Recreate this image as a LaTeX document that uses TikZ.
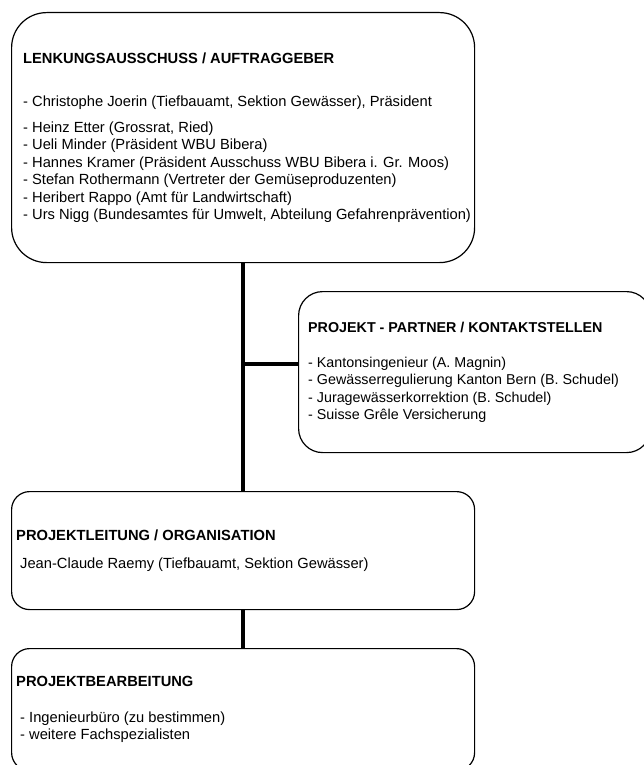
\documentclass[tikz,border=0pt]{standalone}
\usepackage{fontspec}
\setmainfont{Liberation Sans}
\usetikzlibrary{calc}

\tikzset{
	orgbox/.style={draw, line width=1.2pt, anchor=north west, inner sep=0pt},
	boxtext/.style={anchor=west, align=left, inner sep=0pt},
	link/.style={line width=4pt},
}

\begin{document}
\begin{tikzpicture}[x=1pt, y=-1pt]
	\useasboundingbox (0, 0) rectangle (643, 765);
	% boxes
	\node [orgbox, rounded corners=35pt, minimum width=463pt, minimum height=250pt] (steer) at (11, 12) {};
	\node [orgbox, rounded corners=24pt, minimum width=352pt, minimum height=161pt] (partner) at (298, 291) {};
	\node [orgbox, rounded corners=18pt, minimum width=463pt, minimum height=118pt] (lead) at (11, 491) {};
	\node [orgbox, rounded corners=18pt, minimum width=463pt, minimum height=122pt] (work) at (11, 648) {};
	% texts
	\node [boxtext, font=\fontsize{14.7}{17.4}\selectfont] (steertext) at ($(steer.west)+(12, 0)$) {%
		\textbf{LENKUNGSAUSSCHUSS / AUFTRAGGEBER}\\[25.6pt]
		- Christophe Joerin (Tiefbauamt, Sektion Gewässer), Präsident\\[8.6pt]
		- Heinz Etter (Grossrat, Ried)\\
		- Ueli Minder (Präsident WBU Bibera)\\
		- Hannes Kramer (Präsident Ausschuss WBU Bibera i. Gr. Moos)\\
		- Stefan Rothermann (Vertreter der Gemüseproduzenten)\\
		- Heribert Rappo (Amt für Landwirtschaft)\\
		- Urs Nigg (Bundesamtes für Umwelt, Abteilung Gefahrenprävention)};
	\node [boxtext, font=\fontsize{14.3}{17.4}\selectfont] (partnertext) at ($(partner.west)+(10, 0)$) {%
		\textbf{PROJEKT - PARTNER / KONTAKTSTELLEN}\\[17.6pt]
		- Kantonsingenieur (A. Magnin)\\
		- Gewässerregulierung Kanton Bern (B. Schudel)\\
		- Juragewässerkorrektion (B. Schudel)\\
		- Suisse Grêle Versicherung};
	\node [boxtext, font=\fontsize{14.7}{17.4}\selectfont] (leadtext) at ($(lead.west)+(5, 0)$) {%
		\textbf{PROJEKTLEITUNG / ORGANISATION}\\[10.6pt]
		\hspace*{4pt}Jean-Claude Raemy (Tiefbauamt, Sektion Gewässer)};
	\node [boxtext, font=\fontsize{14.7}{17}\selectfont] (worktext) at ($(work.west)+(5, 0)$) {%
		\textbf{PROJEKTBEARBEITUNG}\\[18.6pt]
		\hspace*{4pt}- Ingenieurbüro (zu bestimmen)\\
		\hspace*{4pt}- weitere Fachspezialisten};
	% connectors
	\coordinate (tee) at ($(partner.west)+(0, -8.5)$);
	\draw [link] (steer.south) -- (lead.north);
	\draw [link] (tee) -- (tee -| steer.south);
	\draw [link] (lead.south) -- (work.north);
\end{tikzpicture}
\end{document}
